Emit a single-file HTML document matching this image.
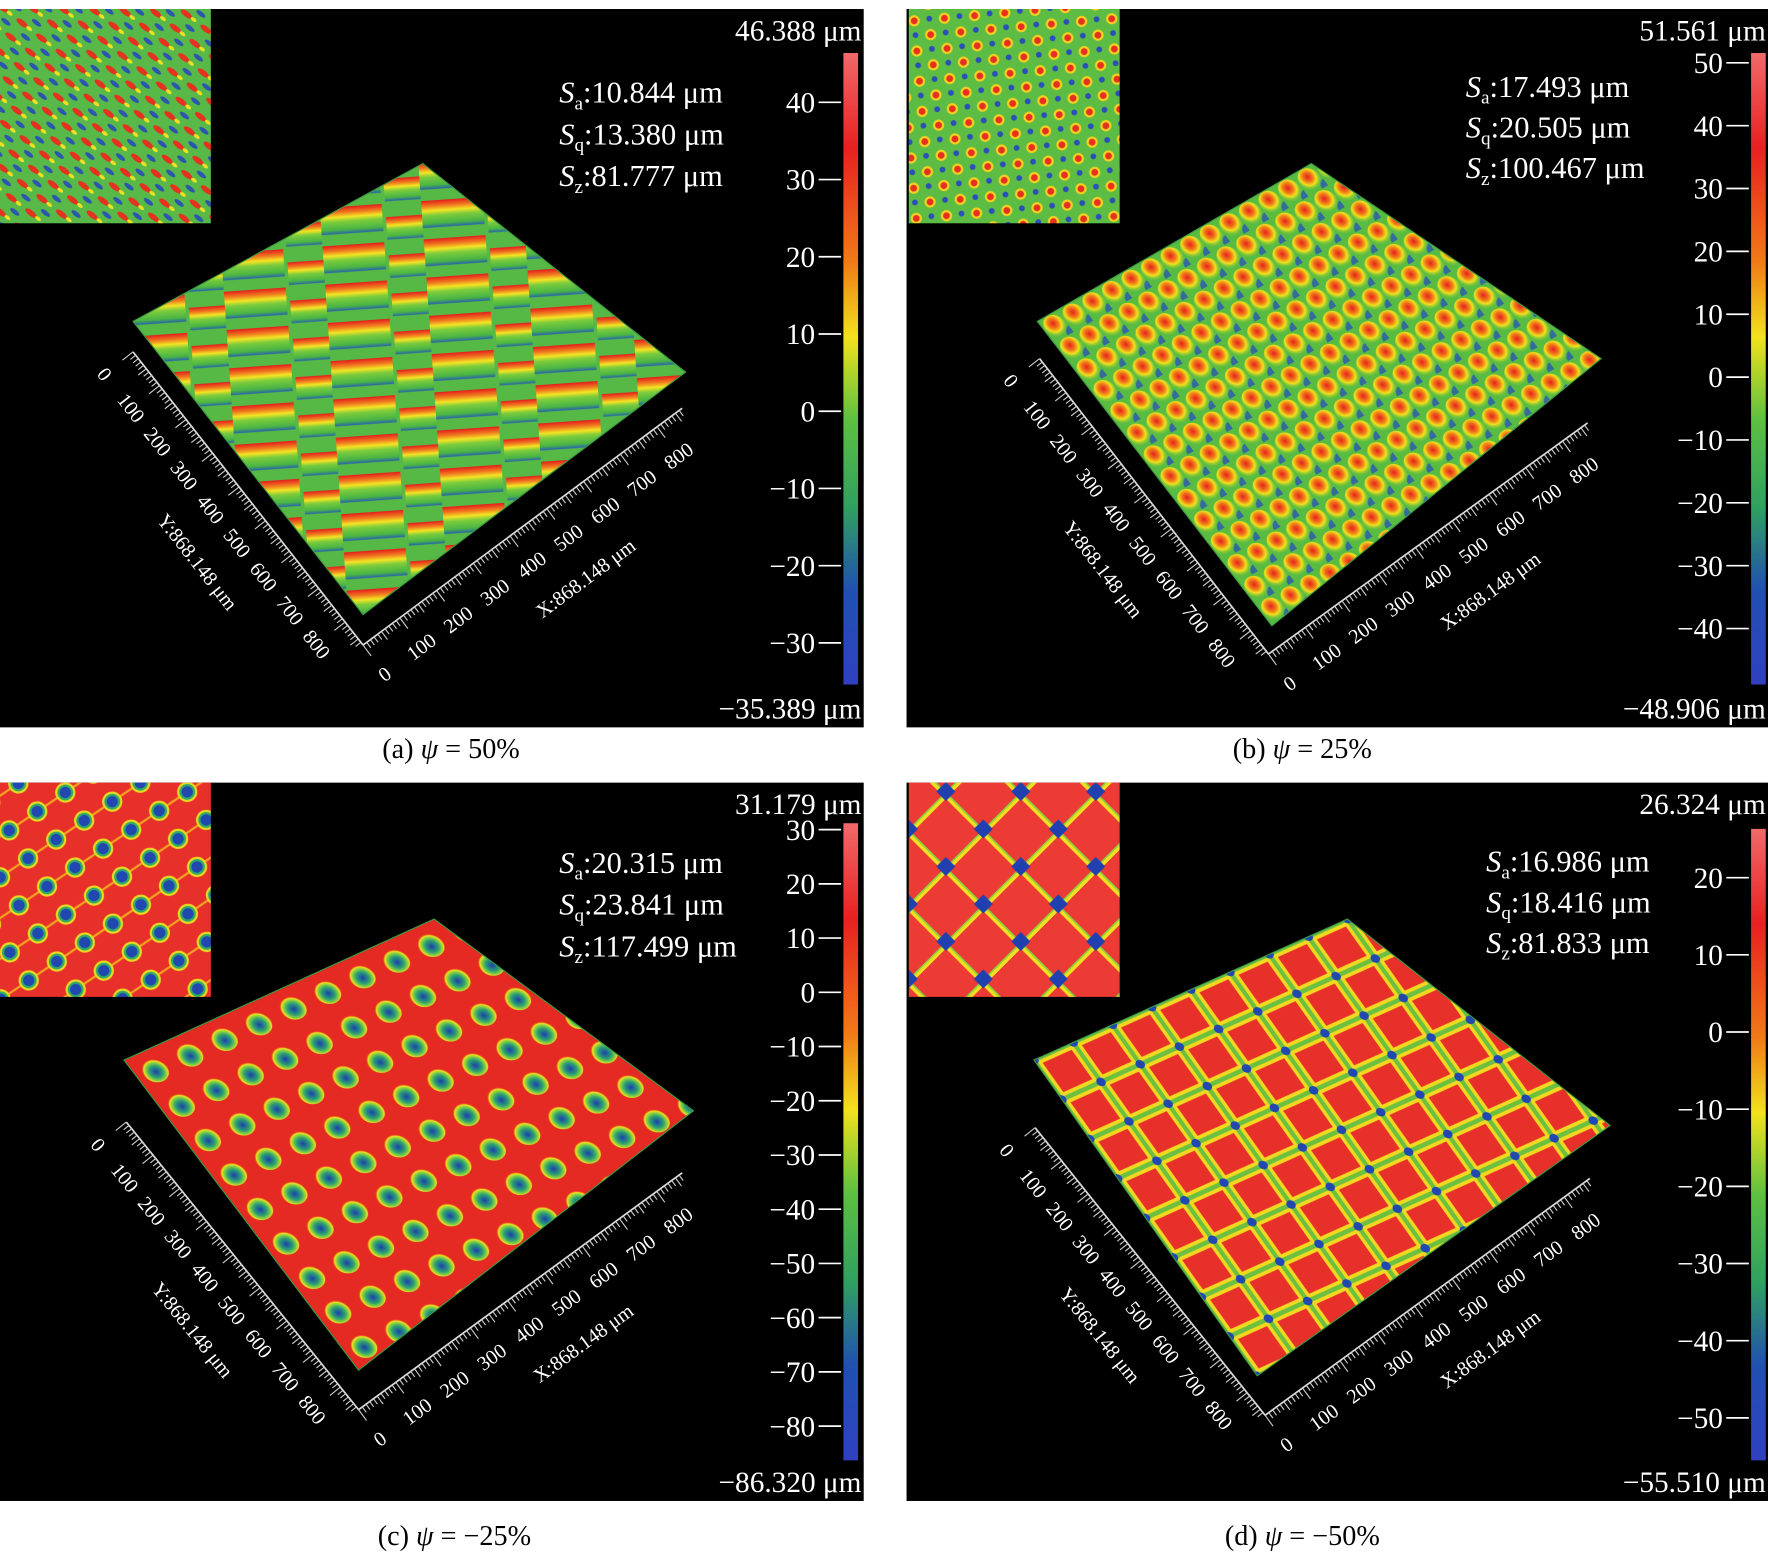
<!DOCTYPE html>
<html><head><meta charset="utf-8">
<style>
html,body{margin:0;padding:0;background:#fff;}
svg{display:block;}
text{font-family:"Liberation Serif",serif;}
</style></head>
<body>
<svg id="fig" xmlns="http://www.w3.org/2000/svg" width="1768" height="1563" viewBox="0 0 1568 1386" preserveAspectRatio="none">
<defs>
  <linearGradient id="cbar" x1="0" y1="0" x2="0" y2="1">
    <stop offset="0" stop-color="#f06a6a"/><stop offset="0.15" stop-color="#e82020"/>
    <stop offset="0.33" stop-color="#f07a18"/><stop offset="0.45" stop-color="#f2e21c"/>
    <stop offset="0.58" stop-color="#5cc040"/><stop offset="0.72" stop-color="#2fa060"/>
    <stop offset="0.85" stop-color="#2050b0"/><stop offset="1" stop-color="#3040c0"/>
  </linearGradient>
  <linearGradient id="bandA" x1="0" y1="0" x2="0" y2="1">
    <stop offset="0" stop-color="#e41c1c"/><stop offset="0.22" stop-color="#f08020"/>
    <stop offset="0.38" stop-color="#f4e424"/><stop offset="0.55" stop-color="#7ccc3c"/>
    <stop offset="0.85" stop-color="#48b444"/><stop offset="1" stop-color="#2860b0"/>
  </linearGradient>
  <pattern id="patA" patternUnits="userSpaceOnUse" width="90" height="34" patternTransform="rotate(-4)">
    <rect width="90" height="34" fill="#56b845"/>
    <rect x="0" y="0" width="55" height="24" fill="url(#bandA)"/>
    <rect x="58" y="12" width="32" height="20" fill="url(#bandA)"/>
  </pattern>
  <radialGradient id="peak" cx="0.5" cy="0.35" r="0.6">
    <stop offset="0" stop-color="#e82020"/><stop offset="0.35" stop-color="#f07a18"/>
    <stop offset="0.6" stop-color="#f2e21c"/><stop offset="1" stop-color="#5cc040" stop-opacity="0"/>
  </radialGradient>
  <radialGradient id="pit" cx="0.5" cy="0.6" r="0.5">
    <stop offset="0" stop-color="#1d3fb0"/><stop offset="0.45" stop-color="#2aa070"/>
    <stop offset="0.7" stop-color="#8ed040"/><stop offset="0.85" stop-color="#f2e21c"/>
    <stop offset="1" stop-color="#e82020" stop-opacity="0"/>
  </radialGradient>
  <pattern id="patInsetA" patternUnits="userSpaceOnUse" width="22" height="16" patternTransform="rotate(38)">
    <rect width="22" height="16" fill="#58b848"/>
    <ellipse cx="6" cy="4" rx="6" ry="2.5" fill="#e63020"/>
    <ellipse cx="16" cy="12" rx="5" ry="2" fill="#2b56b0"/>
    <ellipse cx="14" cy="4" rx="3" ry="1.6" fill="#f0e020"/>
  </pattern>
  <pattern id="patInsetB" patternUnits="userSpaceOnUse" width="19" height="19" patternTransform="rotate(40)">
    <rect width="19" height="19" fill="#5cbc44"/>
    <circle cx="6" cy="6" r="5" fill="#f2d020"/><circle cx="6" cy="6" r="3" fill="#e63020"/>
    <circle cx="15" cy="15" r="2.6" fill="#2a50b8"/>
  </pattern>
  <pattern id="patInsetC" patternUnits="userSpaceOnUse" width="30" height="30" patternTransform="rotate(-34)">
    <rect width="30" height="30" fill="#e8302a"/>
    <line x1="0" y1="15" x2="30" y2="15" stroke="#f4a020" stroke-width="2"/>
    <circle cx="15" cy="15" r="9" fill="#e8d820"/><circle cx="15" cy="15" r="7" fill="#30a868"/><circle cx="15" cy="15" r="5" fill="#2048b0"/>
  </pattern>
  <pattern id="patInsetD" patternUnits="userSpaceOnUse" width="47" height="47" patternTransform="translate(8,4) rotate(45)">
    <rect width="47" height="47" fill="#ec3a34"/>
    <path d="M0 0H47M0 0V47" stroke="#f2e020" stroke-width="9"/>
    <path d="M0 0H47M0 0V47" stroke="#8ccc40" stroke-width="3"/>
    <rect x="-6" y="-6" width="12" height="12" fill="#2040b0"/><rect x="41" y="-6" width="12" height="12" fill="#2040b0"/>
    <rect x="-6" y="41" width="12" height="12" fill="#2040b0"/><rect x="41" y="41" width="12" height="12" fill="#2040b0"/>
  </pattern>
</defs>
</svg>
<script>
const NS='http://www.w3.org/2000/svg';
const svg=document.getElementById('fig');
const defs=svg.querySelector('defs');

/* ---------- data ---------- */
const panelLetters=['a','b','c','d'];
const psiValues=['50%','25%','\u221225%','\u221250%'];
const zMaxLabels=['46.388 \u03bcm','51.561 \u03bcm','31.179 \u03bcm','26.324 \u03bcm'];
const zMinLabels=['\u221235.389 \u03bcm','\u221248.906 \u03bcm','\u221286.320 \u03bcm','\u221255.510 \u03bcm'];
const zMaxValues=[46.388,51.561,31.179,26.324];
const zMinValues=[-35.389,-48.906,-86.320,-55.510];
const saValues=['10.844','17.493','20.315','16.986'];
const sqValues=['13.380','20.505','23.841','18.416'];
const szValues=['81.777','100.467','117.499','81.833'];
const tickA=[40,30,20,10,0,-10,-20,-30];
const tickB=[50,40,30,20,10,0,-10,-20,-30,-40];
const tickC=[30,20,10,0,-10,-20,-30,-40,-50,-60,-70,-80];
const tickD=[20,10,0,-10,-20,-30,-40,-50];
const axisTicks=[0,100,200,300,400,500,600,700,800];
const axisExtent=868.148;

/* layout (not data) */
const panels=[
 {x:0,y:8,w:766,h:637,cb:[748,47,607],stat:[496,83,37],L:[118,285],T:[375,145],R:[608,330],B:[322,545],yA:[[118,312],[322,572]],xA:[[322,572],[605,362]],ticks:tickA,inset:'patInsetA',surf:'A',n:14,cap:[400,672]},
 {x:804,y:8,w:764,h:637,cb:[1553,47,607],stat:[1300,78,36],L:[920,285],T:[1163,145],R:[1420,318],B:[1128,555],yA:[[922,318],[1125,580]],xA:[[1125,580],[1408,375]],ticks:tickB,inset:'patInsetB',surf:'B',n:14,cap:[1155,672]},
 {x:0,y:694,w:766,h:637,cb:[748,730,1295],stat:[496,766,37],L:[110,940],T:[385,815],R:[615,985],B:[318,1215],yA:[[112,995],[318,1250]],xA:[[318,1250],[605,1040]],ticks:tickC,inset:'patInsetC',surf:'C',n:9,cap:[403,1370]},
 {x:804,y:694,w:764,h:637,cb:[1553,735,1295],stat:[1318,765,36],L:[917,940],T:[1195,815],R:[1428,998],B:[1115,1220],yA:[[918,1000],[1122,1255]],xA:[[1122,1255],[1410,1045]],ticks:tickD,inset:'patInsetD',surf:'D',n:8,cap:[1155,1370]}
];

function el(tag,attrs,parent){const e=document.createElementNS(NS,tag);for(const k in attrs)e.setAttribute(k,attrs[k]);(parent||svg).appendChild(e);return e;}

function surfPattern(p,i){
  const id='surf'+i;
  const ux=p.T[0]-p.L[0],uy=p.T[1]-p.L[1],vx=p.B[0]-p.L[0],vy=p.B[1]-p.L[1];
  const s=1/(100*p.n);
  if(p.surf==='A') return 'url(#patA)';
  const pat=el('pattern',{id:id,patternUnits:'userSpaceOnUse',width:100,height:100,
    patternTransform:`matrix(${ux*s},${uy*s},${vx*s},${vy*s},${p.L[0]},${p.L[1]})`},defs);
  if(p.surf==='B'){
    el('rect',{width:100,height:100,fill:'#58bb42'},pat);
    el('circle',{cx:100,cy:100,r:30,fill:'#2a58b4',opacity:0.8},pat);
    el('circle',{cx:50,cy:50,r:48,fill:'url(#peak)'},pat);
  } else if(p.surf==='C'){
    el('rect',{width:100,height:100,fill:'#e42a22'},pat);
    el('circle',{cx:50,cy:50,r:34,fill:'url(#pit)'},pat);
  } else {
    el('rect',{width:100,height:100,fill:'#e8302a'},pat);
    el('path',{d:'M0 0H100M0 0V100M0 100H100M100 0V100',stroke:'#f2d820','stroke-width':26,fill:'none'},pat);
    el('path',{d:'M0 0H100M0 0V100M0 100H100M100 0V100',stroke:'#6cc040','stroke-width':10,fill:'none'},pat);
    for(const c of [[0,0],[100,0],[0,100],[100,100]]){el('circle',{cx:c[0],cy:c[1],r:10,fill:'#2048b0'},pat);}
  }
  return 'url(#'+id+')';
}

function drawAxis(g,a,b,angle,name){
  const line=el('line',{x1:a[0],y1:a[1],x2:b[0],y2:b[1],stroke:'#ddd','stroke-width':1.5},g);
  
  
  const dx=b[0]-a[0],dy=b[1]-a[1],len=Math.hypot(dx,dy);
  const nx=-dy/len,ny=dx/len;
  for(let v=0;v<=860;v+=10){
    const t=v/axisExtent,px=a[0]+dx*t,py=a[1]+dy*t;
    const L=(v%100===0)?12:(v%50===0?9:6);
    const tk=el('line',{x1:px,y1:py,x2:px+nx*L,y2:py+ny*L,stroke:'#ccc','stroke-width':1},g);
    
    
  }
  axisTicks.forEach(v=>{
    const t=v/axisExtent,px=a[0]+dx*t+nx*34,py=a[1]+dy*t+ny*34;
    const tx=el('text',{x:px,y:py,fill:'#fff','font-size':18,'text-anchor':'middle','dominant-baseline':'middle',transform:`rotate(${angle} ${px} ${py})`},g);
    tx.textContent=v;
    
    
  });
  const mx=a[0]+dx*0.55+nx*72,my=a[1]+dy*0.55+ny*72;
  const tl=el('text',{x:mx,y:my,fill:'#fff','font-size':18,'text-anchor':'middle','dominant-baseline':'middle',transform:`rotate(${angle} ${mx} ${my})`},g);
  tl.textContent=(name.startsWith('y')?'Y':'X')+':868.148 \u03bcm';
  
  
}

panels.forEach((p,i)=>{
  const g=el('g',{});
  
  
  const bg=el('rect',{x:p.x,y:p.y,width:p.w,height:p.h,fill:'#000'},g);
  
  
  const ins=el('rect',{x:p.x+(i%2?2:0),y:p.y,width:187,height:190,fill:'url(#'+p.inset+')'},g);
  
  
  const pts=[p.L,p.T,p.R,p.B].map(q=>q.join(',')).join(' ');
  const sf=el('polygon',{points:pts,fill:surfPattern(p,i),stroke:'#3a9a40','stroke-width':1},g);
  
  
  const ya=Math.atan2(p.yA[1][1]-p.yA[0][1],p.yA[1][0]-p.yA[0][0])*180/Math.PI;
  const xa=Math.atan2(p.xA[1][1]-p.xA[0][1],p.xA[1][0]-p.xA[0][0])*180/Math.PI;
  drawAxis(g,p.yA[0],p.yA[1],ya,'y-axis');
  drawAxis(g,p.xA[0],p.xA[1],xa,'x-axis');
  const [cx,cTop,cBot]=p.cb;
  const cbr=el('rect',{x:cx,y:cTop,width:13,height:cBot-cTop,fill:'url(#cbar)'},g);
  
  
  const zmax=zMaxValues[i],zmin=zMinValues[i];
  const zy=v=>cTop+(zmax-v)/(zmax-zmin)*(cBot-cTop);
  p.ticks.forEach(v=>{
    const y=zy(v);
    const tl=el('line',{x1:cx-22,y1:y,x2:cx-2,y2:y,stroke:'#fff','stroke-width':1.5},g);
    
    
    const tt=el('text',{x:cx-25,y:y+9,fill:'#fff','font-size':26,'text-anchor':'end'},g);
    tt.textContent=v<0?'\u2212'+Math.abs(v):String(v);
    
    
  });
  const zt=el('text',{x:p.x+p.w-2,y:p.y+28,fill:'#fff','font-size':26,'text-anchor':'end'},g);
  zt.textContent=zMaxLabels[i];
  
  
  const zb=el('text',{x:p.x+p.w-2,y:p.y+p.h-8,fill:'#fff','font-size':26,'text-anchor':'end'},g);
  zb.textContent=zMinLabels[i];
  
  
  const stats=[['a',saValues[i]],['q',sqValues[i]],['z',szValues[i]]];
  stats.forEach((s,k)=>{
    const t=el('text',{x:p.stat[0],y:p.stat[1]+k*p.stat[2]+8,fill:'#fff','font-size':27},g);
    t.innerHTML=`<tspan font-style="italic">S</tspan><tspan font-size="17" dy="6">${s[0]}</tspan><tspan dy="-6">:${s[1]} \u03bcm</tspan>`;
    
    
  });
  const c=el('text',{x:p.cap[0],y:p.cap[1],fill:'#000','font-size':25,'text-anchor':'middle'});
  c.innerHTML=`(${panelLetters[i]}) <tspan font-style="italic">\u03c8</tspan> = ${psiValues[i]}`;
  
  
});
</script>
</body></html>
